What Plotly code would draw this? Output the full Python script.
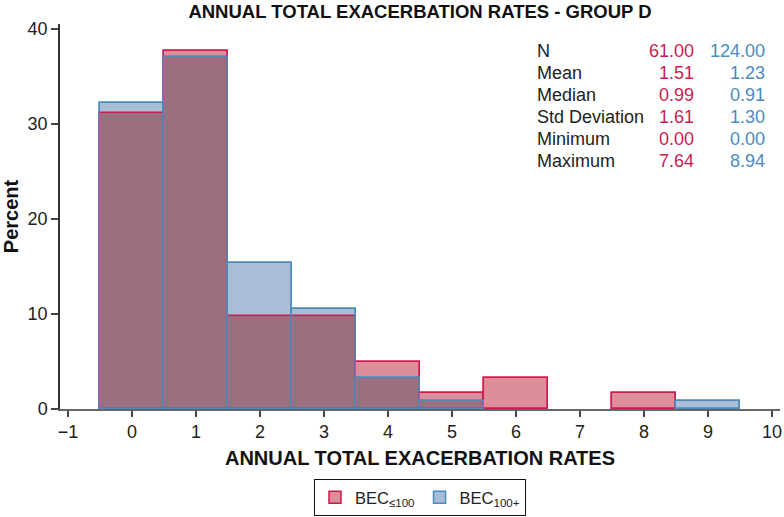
import numpy as np
import plotly.graph_objects as go

# Data
bin_centers = [0, 1, 2, 3, 4, 5, 6, 7, 8, 9]
pct_bec_le100 = [31.15, 37.70, 9.84, 9.84, 4.92, 1.64, 3.28, 0.0, 1.64, 0.0]
pct_bec_100p = [32.26, 37.10, 15.32, 10.48, 3.23, 0.81, 0.0, 0.0, 0.0, 0.81]
stat_labels = ["N", "Mean", "Median", "Std Deviation", "Minimum", "Maximum"]
stats_le100 = ["61.00", "1.51", "0.99", "1.61", "0.00", "7.64"]
stats_100p = ["124.00", "1.23", "0.91", "1.30", "0.00", "8.94"]
x_ticks = list(range(-1, 11))
y_ticks = [0, 10, 20, 30, 40]

RED_LINE = "#c91d52"
RED_FILL = "#dc8f98"
BLUE_LINE = "#4a8cbf"
BLUE_FILL = "#a9bdd6"
OVERLAP = "#9b6f80"
FONT = "Liberation Sans, Arial, sans-serif"


def nz(vals):
    return [v if v > 0 else None for v in vals]


red = nz(pct_bec_le100)
blue = nz(pct_bec_100p)
overlap = nz(list(np.minimum(pct_bec_le100, pct_bec_100p)))

fig = go.Figure()
fig.add_trace(go.Bar(x=bin_centers, y=red, width=1,
                     name="BEC<sub>≤100</sub>",
                     marker=dict(color=RED_FILL, line=dict(color=RED_LINE, width=1.5))))
fig.add_trace(go.Bar(x=bin_centers, y=blue, width=1,
                     name="BEC<sub>100+</sub>",
                     marker=dict(color=BLUE_FILL, line=dict(color=BLUE_LINE, width=1.5))))
fig.add_trace(go.Bar(x=bin_centers, y=overlap, width=1, showlegend=False,
                     marker=dict(color=OVERLAP, line=dict(width=0))))
fig.add_trace(go.Bar(x=bin_centers, y=red, width=1, showlegend=False,
                     marker=dict(color="rgba(0,0,0,0)", line=dict(color=RED_LINE, width=1.5))))
fig.add_trace(go.Bar(x=bin_centers, y=blue, width=1, showlegend=False,
                     marker=dict(color="rgba(0,0,0,0)", line=dict(color=BLUE_LINE, width=1.5))))

W, H = 784, 517
L, R, T = 60, 4, 24
pw = W - L - R
ph = 385
B = H - T - ph

annotations = []
row0 = 50.7
step = 22.1
for i, lab in enumerate(stat_labels):
    py = row0 + i * step
    yp = (H - B - py) / ph
    annotations.append(dict(text=lab, x=(535 - L) / pw, y=yp, xref="paper", yref="paper",
                            xanchor="left", yanchor="middle", showarrow=False,
                            font=dict(size=18, color="#222", family=FONT)))
    annotations.append(dict(text=stats_le100[i], x=(696 - L) / pw, y=yp, xref="paper", yref="paper",
                            xanchor="right", yanchor="middle", showarrow=False,
                            font=dict(size=18, color=RED_LINE, family=FONT)))
    annotations.append(dict(text=stats_100p[i], x=(767 - L) / pw, y=yp, xref="paper", yref="paper",
                            xanchor="right", yanchor="middle", showarrow=False,
                            font=dict(size=18, color=BLUE_LINE, family=FONT)))

fig.update_layout(
    width=W, height=H,
    margin=dict(l=L, r=R, t=T, b=B, autoexpand=False),
    paper_bgcolor="white", plot_bgcolor="white",
    barmode="overlay", bargap=0,
    font=dict(family=FONT, size=18, color="#222"),
    title=dict(text="<b>ANNUAL TOTAL EXACERBATION RATES - GROUP D</b>",
               x=0.5, xanchor="center", xref="paper", y=1 - 12 / H, yanchor="middle",
               font=dict(size=18.5, family="Liberation Sans Narrow, Liberation Sans, Arial", color="#111")),
    xaxis=dict(range=[-1.125, -1.125 + pw / 64.0], tickvals=x_ticks, automargin=False,
               ticktext=[("\u2212" + str(-v)) if v < 0 else str(v) for v in x_ticks],
               showgrid=False, zeroline=False, showline=True, linecolor="#666", linewidth=1.5,
               ticks="outside", ticklen=6, tickcolor="#444", tickwidth=1.5,
               tickfont=dict(size=18, color="#222"),
               title=dict(text="<b>ANNUAL TOTAL EXACERBATION RATES</b>", font=dict(size=20, color="#111"),
                          standoff=10)),
    yaxis=dict(range=[0, ph / 9.5], tickvals=y_ticks, showgrid=False, zeroline=False, automargin=False,
               showline=True, linecolor="#333", linewidth=1.5,
               ticks="outside", ticklen=7, tickcolor="#444", tickwidth=1.5,
               tickfont=dict(size=18, color="#222"),
               title=dict(text="<b>Percent</b>", font=dict(size=20, color="#111"), standoff=6)),
    legend=dict(orientation="h", x=0.5, xanchor="center", y=(H - B - 479) / ph, yanchor="top",
                bordercolor="#111", borderwidth=1, font=dict(size=16.5, color="#222"),
                itemwidth=30, tracegroupgap=0),
    annotations=annotations,
)

fig.write_html("out.html", config={"displayModeBar": False},
               post_script="document.body.style.margin='0';document.body.style.overflow='hidden';")
